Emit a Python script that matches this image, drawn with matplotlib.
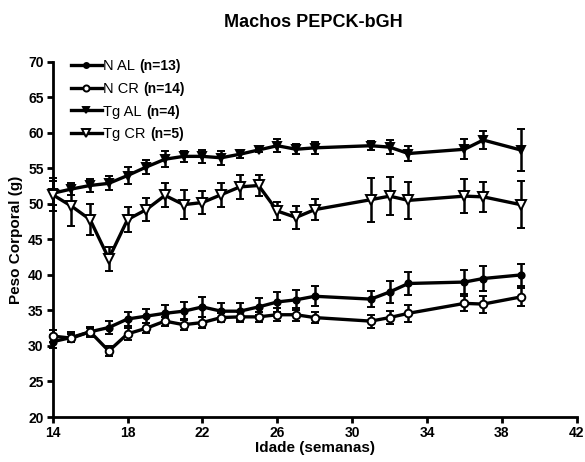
import matplotlib
matplotlib.use('Agg')
import matplotlib.pyplot as plt

plt.rcParams['font.family'] = ['Liberation Sans', 'DejaVu Sans']
plt.rcParams['font.weight'] = 'bold'

# idade (semanas)
weeks = [14, 15, 16, 17, 18, 19, 20, 21, 22, 23, 24, 25, 26, 27, 28, 31, 32, 33, 36, 37, 39]

n_al = [30.6, 31.2, 32.0, 32.6, 33.8, 34.2, 34.6, 34.9, 35.5, 34.9, 34.9, 35.5, 36.2, 36.5, 37.0,
        36.6, 37.6, 38.8, 39.0, 39.5, 40.0]
n_al_err = [0.9, 0.7, 0.7, 0.9, 1.0, 1.0, 1.2, 1.3, 1.4, 1.2, 1.2, 1.2, 1.4, 1.4, 1.4,
            1.1, 1.5, 1.6, 1.7, 1.7, 1.6]

n_cr = [31.4, 31.1, 32.0, 29.3, 31.7, 32.5, 33.5, 33.0, 33.3, 34.0, 34.1, 34.1, 34.4, 34.4, 34.0,
        33.5, 34.0, 34.6, 36.0, 35.9, 36.9]
n_cr_err = [0.9, 0.6, 0.6, 0.65, 0.8, 0.7, 0.65, 0.8, 0.8, 0.65, 0.7, 0.7, 0.9, 0.9, 0.8,
            0.9, 0.9, 1.2, 1.1, 1.2, 1.3]

tg_al = [51.5, 52.1, 52.6, 52.9, 54.0, 55.2, 56.3, 56.7, 56.7, 56.5, 57.0, 57.6, 58.2, 57.7, 57.9,
         58.2, 58.0, 57.1, 57.7, 59.0, 57.6]
tg_al_err = [1.7, 0.85, 0.9, 1.0, 1.15, 1.05, 1.1, 0.8, 0.95, 1.0, 0.6, 0.3, 0.95, 0.7, 0.8,
             0.65, 0.95, 1.1, 1.4, 1.3, 2.9]

tg_cr = [51.3, 49.7, 47.8, 42.3, 47.8, 49.2, 51.2, 49.9, 50.2, 51.3, 52.4, 52.6, 49.0, 48.1, 49.2,
         50.6, 51.1, 50.5, 51.1, 51.0, 49.9]
tg_cr_err = [2.3, 2.8, 2.2, 1.7, 1.7, 1.6, 1.7, 2.0, 1.6, 1.7, 1.7, 1.5, 1.3, 1.6, 1.45,
             3.1, 2.7, 2.6, 2.4, 2.15, 3.3]

groups = ['N AL', 'N CR', 'Tg AL', 'Tg CR']
n_labels = ['(n=13)', '(n=14)', '(n=4)', '(n=5)']

fig = plt.figure(figsize=(5.85, 4.62), dpi=100)
ax = fig.add_axes([0.09, 0.0974, 0.896, 0.7686])

series = [
    (n_al, n_al_err, 'o', 'black', 4.5),
    (n_cr, n_cr_err, 'o', 'white', 5.5),
    (tg_al, tg_al_err, 'v', 'black', 5.5),
    (tg_cr, tg_cr_err, 'v', 'white', 6.5),
]

handles = []
for y, e, m, fc, ms in series:
    h = ax.errorbar(weeks, y, yerr=e, color='black', lw=2.4, marker=m, ms=ms,
                    mfc=fc, mec='black', mew=1.4, capsize=3.2, capthick=2,
                    elinewidth=1.8, clip_on=False, zorder=3)
    handles.append(h[0])

leg = ax.legend(handles, groups, loc='upper left', bbox_to_anchor=(0.01, 1.045),
                frameon=False, handlelength=2.1, handletextpad=0.1, markerscale=0.8,
                labelspacing=0.6, prop={'weight': 'normal', 'size': 10.5})
# the "(n=..)" part is bold in the original; draw it after the legend
for txt, nl in zip(leg.get_texts(), n_labels):
    ax.annotate(nl, xy=(1, 0), xycoords=txt, xytext=(3, 0), textcoords='offset points',
                va='bottom', ha='left', fontsize=10, fontweight='bold', zorder=10)

ax.set_xlim(14, 42)
ax.set_ylim(20, 70)
ax.set_xticks(range(14, 43, 4))
ax.set_yticks(range(20, 71, 5))
for s in ['top', 'right']:
    ax.spines[s].set_visible(False)
for s in ['left', 'bottom']:
    ax.spines[s].set_linewidth(2)
ax.tick_params(width=2, length=4.5, labelsize=10, pad=2)

ax.set_xlabel('Idade (semanas)', fontsize=11, fontweight='bold', labelpad=1)
ax.set_ylabel('Peso Corporal (g)', fontsize=11, fontweight='bold', labelpad=4)
fig.suptitle('Machos PEPCK-bGH', x=0.535, y=0.97, fontsize=13, fontweight='bold')

fig.savefig('out.png', dpi=100)
